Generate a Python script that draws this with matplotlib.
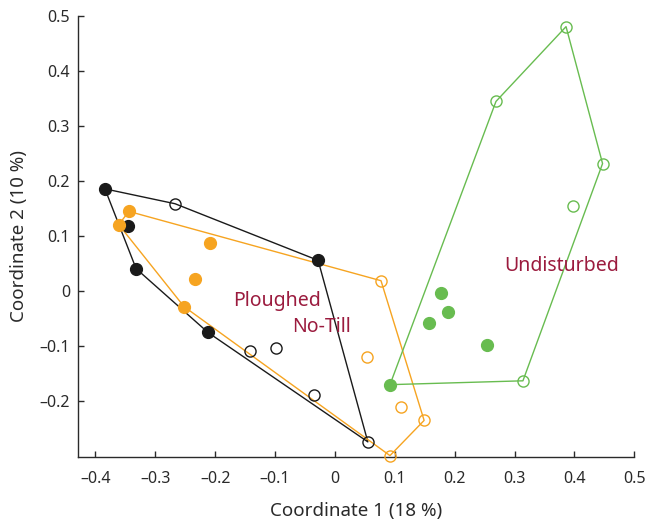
import matplotlib
matplotlib.use("Agg")
import matplotlib.pyplot as plt
from matplotlib.ticker import FuncFormatter

plt.rcParams['font.family'] = ['Noto Sans', 'DejaVu Sans']

# Ploughed (black)
black_filled_x = [-0.384, -0.346, -0.332, -0.212, -0.028]
black_filled_y = [0.185, 0.118, 0.040, -0.076, 0.055]
black_open_x = [-0.267, -0.142, -0.098, -0.035, 0.055]
black_open_y = [0.158, -0.109, -0.105, -0.189, -0.275]

# No-Till (orange)
orange_filled_x = [-0.361, -0.344, -0.209, -0.234, -0.252]
orange_filled_y = [0.120, 0.144, 0.087, 0.022, -0.029]
orange_open_x = [0.077, 0.053, 0.110, 0.149, 0.092]
orange_open_y = [0.018, -0.120, -0.211, -0.236, -0.300]

# Undisturbed (green)
green_filled_x = [0.177, 0.189, 0.157, 0.254, 0.092]
green_filled_y = [-0.004, -0.038, -0.058, -0.098, -0.171]
green_open_x = [0.386, 0.269, 0.447, 0.397, 0.314]
green_open_y = [0.480, 0.344, 0.231, 0.153, -0.164]

labels = ["Ploughed", "No-Till", "Undisturbed"]
label_x = [-0.097, -0.0225, 0.378]
label_y = [-0.018, -0.067, 0.045]

xticks = [-0.4, -0.3, -0.2, -0.1, 0, 0.1, 0.2, 0.3, 0.4, 0.5]
yticks = [-0.2, -0.1, 0, 0.1, 0.2, 0.3, 0.4, 0.5]

BLACK = "#1a1a1a"
ORANGE = "#f6a421"
GREEN = "#68bc50"
TEXT = "#9b1b3e"
AXIS = "#2a2a2a"


def hull(xs, ys):
    pts = sorted(set(zip(xs, ys)))
    def cross(o, a, b):
        return (a[0]-o[0])*(b[1]-o[1]) - (a[1]-o[1])*(b[0]-o[0])
    lower = []
    for p in pts:
        while len(lower) >= 2 and cross(lower[-2], lower[-1], p) <= 0:
            lower.pop()
        lower.append(p)
    upper = []
    for p in reversed(pts):
        while len(upper) >= 2 and cross(upper[-2], upper[-1], p) <= 0:
            upper.pop()
        upper.append(p)
    h = lower[:-1] + upper[:-1]
    h.append(h[0])
    return [p[0] for p in h], [p[1] for p in h]


fig = plt.figure(figsize=(6.46, 5.21), dpi=100)
ax = fig.add_axes([0.1212, 0.1234, 0.8607, 0.8466])

groups = [
    (black_filled_x, black_filled_y, black_open_x, black_open_y, BLACK),
    (orange_filled_x, orange_filled_y, orange_open_x, orange_open_y, ORANGE),
    (green_filled_x, green_filled_y, green_open_x, green_open_y, GREEN),
]

for fx, fy, ox, oy, c in groups:
    hx, hy = hull(fx + ox, fy + oy)
    ax.plot(hx, hy, color=c, lw=1.0, zorder=2, clip_on=False)

for fx, fy, ox, oy, c in groups:
    ax.plot(fx, fy, 'o', color=c, ms=8.5, mec=c, zorder=3, clip_on=False)
    ax.plot(ox, oy, 'o', mfc='none', mec=c, ms=8.0, mew=1.0, zorder=3, clip_on=False)

for t, x, y in zip(labels, label_x, label_y):
    ax.text(x, y, t, color=TEXT, fontsize=14, ha='center', va='center')

ax.set_xlim(-0.4285, 0.5)
ax.set_ylim(-0.302, 0.5)
ax.set_xticks(xticks)
ax.set_yticks(yticks)

fmt = FuncFormatter(lambda v, p: "0" if abs(v) < 1e-9 else (("\u2013" if v < 0 else "") + f"{abs(v):.1f}"))
ax.xaxis.set_major_formatter(fmt)
ax.yaxis.set_major_formatter(fmt)

ax.spines['top'].set_visible(False)
ax.spines['right'].set_visible(False)
for s in ['left', 'bottom']:
    ax.spines[s].set_linewidth(1.0)
    ax.spines[s].set_color(AXIS)
ax.tick_params(direction='in', length=4, width=1.0, labelsize=11.5, colors=AXIS)
ax.tick_params(axis='x', pad=10)
ax.tick_params(axis='y', pad=6)

ax.set_xlabel("Coordinate 1 (18 %)", fontsize=13.5, color=AXIS, labelpad=11)
ax.set_ylabel("Coordinate 2 (10 %)", fontsize=13.5, color=AXIS, labelpad=8)

fig.savefig("out.png", dpi=100)
